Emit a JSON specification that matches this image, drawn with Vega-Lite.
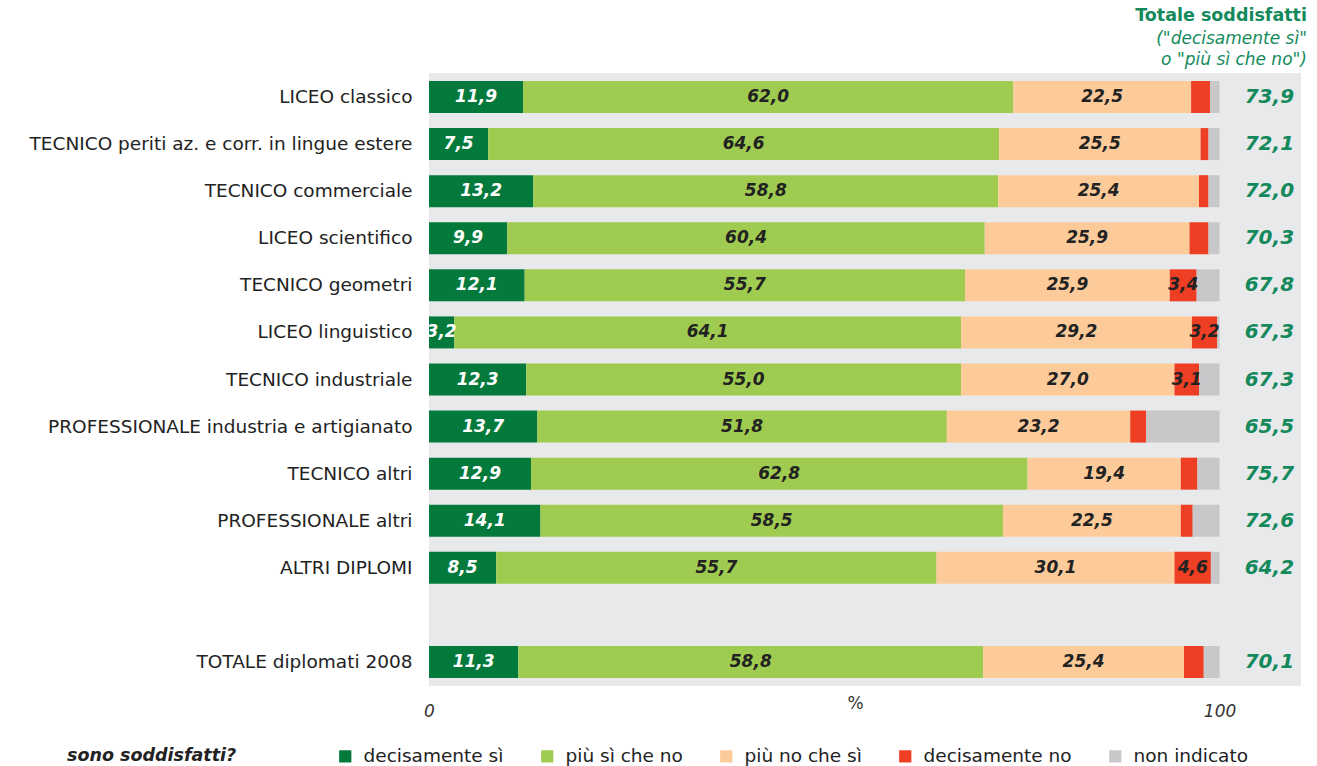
{
  "$schema": "https://vega.github.io/schema/vega-lite/v6.json",
  "autosize": "none",
  "width": 872,
  "height": 613,
  "padding": {"left": 429, "top": 73, "right": 16, "bottom": 80},
  "config": {
    "font": "DejaVu Sans",
    "view": {"stroke": null, "fill": "#E8E9EB"},
    "locale": {"number": {"decimal": ",", "thousands": ".", "grouping": [3], "currency": ["", " €"]}}
  },
  "title": {
    "text": "Totale soddisfatti",
    "subtitle": ["(\"decisamente sì\"", "o \"più sì che no\")"],
    "anchor": "end",
    "frame": "group",
    "dx": 6,
    "offset": 5,
    "fontSize": 17.5,
    "fontWeight": "bold",
    "color": "#148A5C",
    "subtitleFontSize": 17,
    "subtitleFontStyle": "italic",
    "subtitleColor": "#148A5C",
    "subtitleLineHeight": 21,
    "subtitlePadding": 7
  },
  "datasets": {
    "seg": [
      {"t": "LICEO classico", "cat": "decisamente sì", "k": 1, "v": 11.9},
      {"t": "LICEO classico", "cat": "più sì che no", "k": 2, "v": 62.0},
      {"t": "LICEO classico", "cat": "più no che sì", "k": 3, "v": 22.5},
      {"t": "LICEO classico", "cat": "decisamente no", "k": 4, "v": 2.4},
      {"t": "LICEO classico", "cat": "non indicato", "k": 5, "v": 1.2},
      {"t": "TECNICO periti az. e corr. in lingue estere", "cat": "decisamente sì", "k": 1, "v": 7.5},
      {"t": "TECNICO periti az. e corr. in lingue estere", "cat": "più sì che no", "k": 2, "v": 64.6},
      {"t": "TECNICO periti az. e corr. in lingue estere", "cat": "più no che sì", "k": 3, "v": 25.5},
      {"t": "TECNICO periti az. e corr. in lingue estere", "cat": "decisamente no", "k": 4, "v": 1.0},
      {"t": "TECNICO periti az. e corr. in lingue estere", "cat": "non indicato", "k": 5, "v": 1.4},
      {"t": "TECNICO commerciale", "cat": "decisamente sì", "k": 1, "v": 13.2},
      {"t": "TECNICO commerciale", "cat": "più sì che no", "k": 2, "v": 58.8},
      {"t": "TECNICO commerciale", "cat": "più no che sì", "k": 3, "v": 25.4},
      {"t": "TECNICO commerciale", "cat": "decisamente no", "k": 4, "v": 1.2},
      {"t": "TECNICO commerciale", "cat": "non indicato", "k": 5, "v": 1.4},
      {"t": "LICEO scientifico", "cat": "decisamente sì", "k": 1, "v": 9.9},
      {"t": "LICEO scientifico", "cat": "più sì che no", "k": 2, "v": 60.4},
      {"t": "LICEO scientifico", "cat": "più no che sì", "k": 3, "v": 25.9},
      {"t": "LICEO scientifico", "cat": "decisamente no", "k": 4, "v": 2.4},
      {"t": "LICEO scientifico", "cat": "non indicato", "k": 5, "v": 1.4},
      {"t": "TECNICO geometri", "cat": "decisamente sì", "k": 1, "v": 12.1},
      {"t": "TECNICO geometri", "cat": "più sì che no", "k": 2, "v": 55.7},
      {"t": "TECNICO geometri", "cat": "più no che sì", "k": 3, "v": 25.9},
      {"t": "TECNICO geometri", "cat": "decisamente no", "k": 4, "v": 3.4},
      {"t": "TECNICO geometri", "cat": "non indicato", "k": 5, "v": 2.9},
      {"t": "LICEO linguistico", "cat": "decisamente sì", "k": 1, "v": 3.2},
      {"t": "LICEO linguistico", "cat": "più sì che no", "k": 2, "v": 64.1},
      {"t": "LICEO linguistico", "cat": "più no che sì", "k": 3, "v": 29.2},
      {"t": "LICEO linguistico", "cat": "decisamente no", "k": 4, "v": 3.2},
      {"t": "LICEO linguistico", "cat": "non indicato", "k": 5, "v": 0.3},
      {"t": "TECNICO industriale", "cat": "decisamente sì", "k": 1, "v": 12.3},
      {"t": "TECNICO industriale", "cat": "più sì che no", "k": 2, "v": 55.0},
      {"t": "TECNICO industriale", "cat": "più no che sì", "k": 3, "v": 27.0},
      {"t": "TECNICO industriale", "cat": "decisamente no", "k": 4, "v": 3.1},
      {"t": "TECNICO industriale", "cat": "non indicato", "k": 5, "v": 2.6},
      {"t": "PROFESSIONALE industria e artigianato", "cat": "decisamente sì", "k": 1, "v": 13.7},
      {"t": "PROFESSIONALE industria e artigianato", "cat": "più sì che no", "k": 2, "v": 51.8},
      {"t": "PROFESSIONALE industria e artigianato", "cat": "più no che sì", "k": 3, "v": 23.2},
      {"t": "PROFESSIONALE industria e artigianato", "cat": "decisamente no", "k": 4, "v": 2.0},
      {"t": "PROFESSIONALE industria e artigianato", "cat": "non indicato", "k": 5, "v": 9.3},
      {"t": "TECNICO altri", "cat": "decisamente sì", "k": 1, "v": 12.9},
      {"t": "TECNICO altri", "cat": "più sì che no", "k": 2, "v": 62.8},
      {"t": "TECNICO altri", "cat": "più no che sì", "k": 3, "v": 19.4},
      {"t": "TECNICO altri", "cat": "decisamente no", "k": 4, "v": 2.1},
      {"t": "TECNICO altri", "cat": "non indicato", "k": 5, "v": 2.8},
      {"t": "PROFESSIONALE altri", "cat": "decisamente sì", "k": 1, "v": 14.1},
      {"t": "PROFESSIONALE altri", "cat": "più sì che no", "k": 2, "v": 58.5},
      {"t": "PROFESSIONALE altri", "cat": "più no che sì", "k": 3, "v": 22.5},
      {"t": "PROFESSIONALE altri", "cat": "decisamente no", "k": 4, "v": 1.5},
      {"t": "PROFESSIONALE altri", "cat": "non indicato", "k": 5, "v": 3.4},
      {"t": "ALTRI DIPLOMI", "cat": "decisamente sì", "k": 1, "v": 8.5},
      {"t": "ALTRI DIPLOMI", "cat": "più sì che no", "k": 2, "v": 55.7},
      {"t": "ALTRI DIPLOMI", "cat": "più no che sì", "k": 3, "v": 30.1},
      {"t": "ALTRI DIPLOMI", "cat": "decisamente no", "k": 4, "v": 4.6},
      {"t": "ALTRI DIPLOMI", "cat": "non indicato", "k": 5, "v": 1.1},
      {"t": "TOTALE diplomati 2008", "cat": "decisamente sì", "k": 1, "v": 11.3},
      {"t": "TOTALE diplomati 2008", "cat": "più sì che no", "k": 2, "v": 58.8},
      {"t": "TOTALE diplomati 2008", "cat": "più no che sì", "k": 3, "v": 25.4},
      {"t": "TOTALE diplomati 2008", "cat": "decisamente no", "k": 4, "v": 2.5},
      {"t": "TOTALE diplomati 2008", "cat": "non indicato", "k": 5, "v": 2.0}
    ],
    "tot": [
      {"t": "LICEO classico", "tot": 73.9},
      {"t": "TECNICO periti az. e corr. in lingue estere", "tot": 72.1},
      {"t": "TECNICO commerciale", "tot": 72.0},
      {"t": "LICEO scientifico", "tot": 70.3},
      {"t": "TECNICO geometri", "tot": 67.8},
      {"t": "LICEO linguistico", "tot": 67.3},
      {"t": "TECNICO industriale", "tot": 67.3},
      {"t": "PROFESSIONALE industria e artigianato", "tot": 65.5},
      {"t": "TECNICO altri", "tot": 75.7},
      {"t": "PROFESSIONALE altri", "tot": 72.6},
      {"t": "ALTRI DIPLOMI", "tot": 64.2},
      {"t": "TOTALE diplomati 2008", "tot": 70.1}
    ]
  },
  "encoding": {
    "y": {
      "field": "t",
      "type": "nominal",
      "scale": {
        "domain": ["LICEO classico", "TECNICO periti az. e corr. in lingue estere", "TECNICO commerciale", "LICEO scientifico", "TECNICO geometri", "LICEO linguistico", "TECNICO industriale", "PROFESSIONALE industria e artigianato", "TECNICO altri", "PROFESSIONALE altri", "ALTRI DIPLOMI", " ", "TOTALE diplomati 2008"],
        "paddingInner": 0.32,
        "paddingOuter": 0.17
      },
      "axis": {
        "title": null,
        "ticks": false,
        "domain": false,
        "labelFontSize": 18.5,
        "labelColor": "#222222",
        "labelPadding": 17,
        "labelLimit": 0
      }
    }
  },
  "layer": [
    {
      "data": {"name": "seg"},
      "mark": {"type": "bar"},
      "encoding": {
        "x": {
          "field": "v",
          "type": "quantitative",
          "stack": "zero",
          "scale": {"domain": [0, 110.3], "nice": false, "zero": true},
          "axis": {
            "values": [0, 100],
            "title": "%",
            "titleFontSize": 17,
            "titleFontWeight": "normal",
            "titleColor": "#333333",
            "titleX": 426,
            "titleY": 9,
            "titleBaseline": "top",
            "labelFontSize": 17,
            "labelFontStyle": "italic",
            "labelColor": "#333333",
            "labelPadding": 17,
            "labelFlush": false,
            "ticks": false,
            "domain": false,
            "grid": false,
            "format": "d"
          }
        },
        "color": {
          "field": "cat",
          "type": "nominal",
          "scale": {
            "domain": ["decisamente sì", "più sì che no", "più no che sì", "decisamente no", "non indicato"],
            "range": ["#037A3C", "#9FCC50", "#FDCB9A", "#EE3E23", "#C8C8CA"]
          },
          "legend": {
            "title": "sono soddisfatti?",
            "orient": "none",
            "direction": "horizontal",
            "columns": 5,
            "legendX": -362,
            "legendY": 674,
            "titleOrient": "left",
            "titleFontSize": 17.5,
            "titleFontStyle": "italic",
            "titleFontWeight": "bold",
            "titleColor": "#222222",
            "titlePadding": 99,
            "titleBaseline": "middle",
            "symbolType": "square",
            "symbolSize": 150,
            "symbolStrokeWidth": 0,
            "symbolOpacity": 1,
            "labelFontSize": 18.5,
            "labelColor": "#222222",
            "labelOffset": 9,
            "columnPadding": 34,
            "labelLimit": 0
          }
        },
        "order": {"field": "k", "type": "quantitative"}
      }
    },
    {
      "data": {"name": "seg"},
      "mark": {"type": "text", "fontSize": 17, "fontWeight": "bold", "fontStyle": "italic", "baseline": "middle", "align": "center"},
      "encoding": {
        "x": {"field": "v", "type": "quantitative", "stack": "zero", "bandPosition": 0.5},
        "detail": {"field": "cat", "type": "nominal"},
        "order": {"field": "k", "type": "quantitative"},
        "text": {
          "condition": {"test": "datum.v >= 3 && datum.k < 5", "field": "v", "type": "quantitative", "format": ".1f"},
          "value": ""
        },
        "color": {
          "condition": {"test": "datum.k == 1", "value": "#FFFFFF"},
          "value": "#222222"
        }
      }
    },
    {
      "data": {"name": "tot"},
      "mark": {"type": "text", "fontSize": 20, "fontWeight": "bold", "fontStyle": "italic", "baseline": "middle", "align": "center", "color": "#148A5C"},
      "encoding": {
        "x": {"datum": 106.3, "type": "quantitative"},
        "text": {"field": "tot", "type": "quantitative", "format": ".1f"}
      }
    }
  ]
}
